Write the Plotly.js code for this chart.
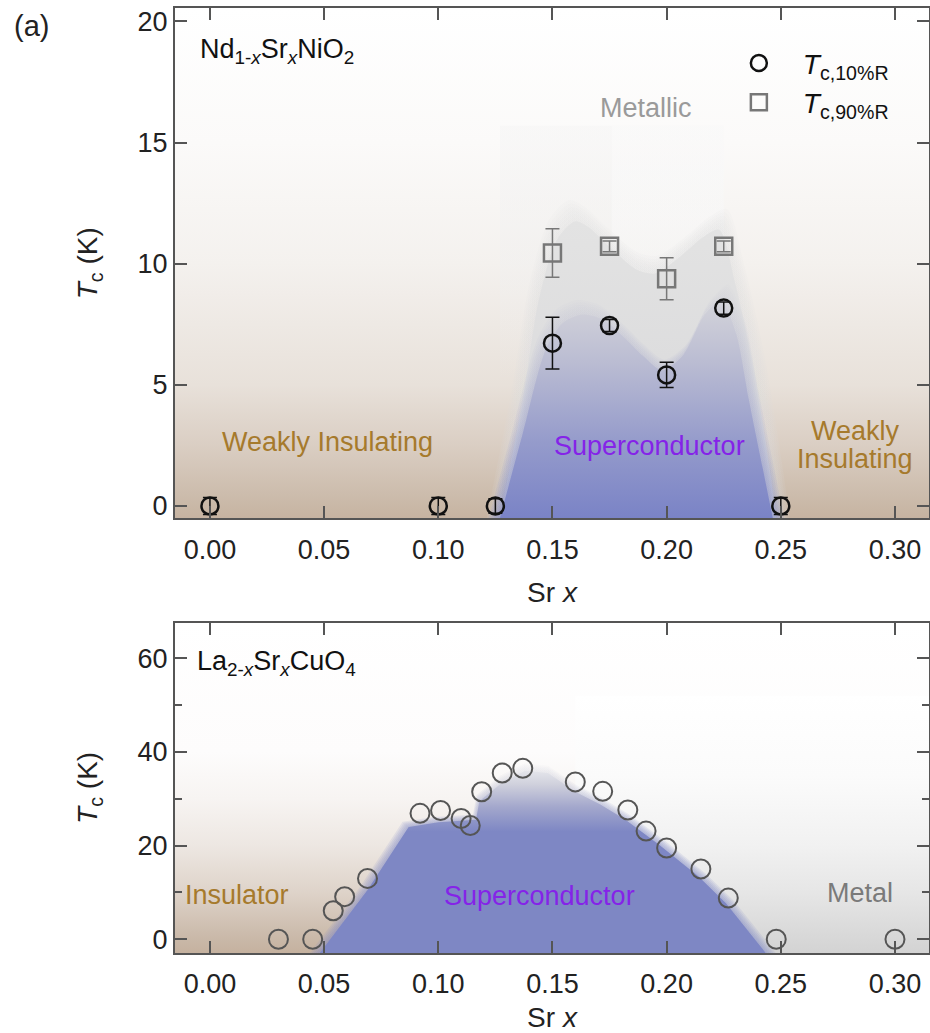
<!DOCTYPE html>
<html><head><meta charset="utf-8">
<script src="https://cdn.plot.ly/plotly-3.0.1.min.js"></script>
<style>html,body{margin:0;padding:0;background:#fff;} #chart{width:930px;height:1033px;}</style>
</head><body><div id="chart"></div>
<script>
// ---------- Data: Nd1-xSrxNiO2 ----------
const ndX = [0.00, 0.10, 0.125, 0.15, 0.175, 0.20, 0.225, 0.25];
const ndTc10 = [0, 0, 0, 6.72, 7.45, 5.41, 8.17, 0];
const ndTc10Err = [0.35, 0.35, 0.3, 1.07, 0.25, 0.52, 0.25, 0.35];
const ndX90 = [0.15, 0.175, 0.20, 0.225];
const ndTc90 = [10.44, 10.72, 9.38, 10.72];
const ndTc90Err = [1.0, 0.22, 0.87, 0.22];

// phase regions
const ndScDomeX = [0.127, 0.137, 0.147, 0.1545, 0.163, 0.172, 0.181, 0.1896, 0.198, 0.207, 0.216, 0.2217, 0.224, 0.2305, 0.236, 0.242, 0.2465];
const ndScDomeT = [-0.5, 3.0, 6.45, 7.55, 7.9, 7.7, 7.0, 6.2, 5.6, 6.2, 7.8, 8.4, 8.5, 7.1, 4.4, 1.6, -0.5];
const ndOnsetDomeX = [0.127, 0.137, 0.144, 0.152, 0.160, 0.166, 0.175, 0.187, 0.195, 0.206, 0.216, 0.223, 0.230, 0.238, 0.245, 0.248];
const ndOnsetDomeT = [-0.5, 4.4, 8.5, 11.0, 11.75, 11.5, 10.7, 9.75, 9.6, 10.3, 11.1, 11.4, 9.2, 5.76, 1.6, -0.5];
const ndMetallicX = [0.127, 0.176, 0.225];
const ndMetallicTop = 15.7;

// ---------- Data: La2-xSrxCuO4 ----------
const lsX = [0.030, 0.045, 0.054, 0.059, 0.069, 0.092, 0.101, 0.110, 0.114, 0.119, 0.128, 0.137, 0.160, 0.172, 0.183, 0.191, 0.200, 0.215, 0.227, 0.248, 0.300];
const lsTc = [0, 0, 6.1, 9.1, 13.0, 26.9, 27.5, 25.8, 24.3, 31.5, 35.5, 36.5, 33.6, 31.6, 27.6, 23.1, 19.5, 15.0, 8.8, 0, 0];
const lsDomeX = [0.048, 0.069, 0.087, 0.100, 0.1165, 0.118, 0.128, 0.138, 0.148, 0.160, 0.171, 0.182, 0.197, 0.214, 0.226, 0.2435];
const lsDomeT = [-3, 10.5, 24, 25, 25.5, 29.5, 33.5, 36, 35.5, 31.5, 28.8, 25.5, 20.1, 13.4, 7.7, -3];
const lsMetalStartX = 0.16;
const lsMetalTop = 52;

// tick labels
const xTicks = [0.00, 0.05, 0.10, 0.15, 0.20, 0.25, 0.30];
const xTickText = ['0.00', '0.05', '0.10', '0.15', '0.20', '0.25', '0.30'];
const yTicksTop = [0, 5, 10, 15, 20];
const yTicksBottom = [0, 20, 40, 60];

// ---------- layout constants ----------
const FONT = 'Liberation Sans, Arial, Helvetica, sans-serif';
const XR = [-0.0153, 0.3149];
const YR1 = [-0.516, 20.557];
const YR2 = [-2.93, 67.6];

function rect(x0, x1, y0, y1) { return {x: [x0, x1, x1, x0, x0], y: [y0, y0, y1, y1, y0]}; }
function bgTrace(r, xa, ya, cs, start, stop) {
  return {x: r.x, y: r.y, xaxis: xa, yaxis: ya, type: 'scatter', mode: 'lines', fill: 'toself',
    line: {width: 0, color: 'rgba(0,0,0,0)'}, fillgradient: {type: 'vertical', colorscale: cs, start: start, stop: stop},
    hoverinfo: 'skip', showlegend: false};
}
// soft-edged region: several outward-scaled copies at low opacity, then the region itself
function softRegion(xs, ys, xa, ya, cs, start, stop, base, spline, n, dsx, dsy, op) {
  const out = [];
  const cx = (Math.min(...xs) + Math.max(...xs)) / 2;
  const shape = spline ? 'spline' : 'linear';
  for (let k = n; k >= 1; k--) {
    const sx = 1 + k * dsx, sy = 1 + k * dsy;
    out.push({x: xs.map(v => cx + (v - cx) * sx), y: ys.map(v => base + (v - base) * sy),
      xaxis: xa, yaxis: ya, type: 'scatter', mode: 'lines', fill: 'toself', opacity: op,
      line: {width: 0, color: 'rgba(0,0,0,0)', shape: shape, smoothing: 0.8},
      fillgradient: {type: 'vertical', colorscale: cs, start: start, stop: base + (stop - base) * sy},
      hoverinfo: 'skip', showlegend: false});
  }
  out.push({x: xs, y: ys, xaxis: xa, yaxis: ya, type: 'scatter', mode: 'lines', fill: 'toself',
    line: {width: 0, color: 'rgba(0,0,0,0)', shape: shape, smoothing: 0.8},
    fillgradient: {type: 'vertical', colorscale: cs, start: start, stop: stop},
    hoverinfo: 'skip', showlegend: false});
  return out;
}

const traces = [];
// top background
let r = rect(XR[0], XR[1], YR1[0], YR1[1]);
traces.push(bgTrace(r, 'x', 'y', [[0, '#c6b3a1'], [0.025, '#c9b8a7'], [0.143, '#dacec3'], [0.262, '#e8e1da'], [0.5, '#f4f1ee'], [0.737, '#fbfaf9'], [1, '#ffffff']], YR1[0], YR1[1]));
// metallic region (subtle)
r = rect(ndMetallicX[0], ndMetallicX[2], YR1[0], ndMetallicTop);
traces.push(bgTrace(r, 'x', 'y', [[0, 'rgba(240,240,240,0)'], [0.35, 'rgba(240,240,240,0)'], [0.65, 'rgba(240,240,240,0.4)'], [1, 'rgba(244,244,244,0.45)']], YR1[0], ndMetallicTop));
r = rect(ndMetallicX[1], ndMetallicX[2], YR1[0], ndMetallicTop);
traces.push(bgTrace(r, 'x', 'y', [[0, 'rgba(252,252,252,0)'], [0.45, 'rgba(252,252,252,0)'], [0.7, 'rgba(252,252,252,0.35)'], [1, 'rgba(252,252,252,0.4)']], YR1[0], ndMetallicTop));
// onset dome (grey)
traces.push(...softRegion(ndOnsetDomeX, ndOnsetDomeT, 'x', 'y', [[0, '#d6d6d8'], [1, '#e3e3e3']], -0.5, 11.75, -0.5, true, 6, 0.016, 0.012, 0.13));
// superconducting dome (blue)
traces.push(...softRegion(ndScDomeX, ndScDomeT, 'x', 'y', [[0, '#7a83c6'], [0.35, '#959bcb'], [0.7, '#b9bbd2'], [1, '#d4d4da']], -0.5, 8.5, -0.5, true, 6, 0.014, 0.012, 0.13));
// data markers
traces.push({x: ndX, y: ndTc10, xaxis: 'x', yaxis: 'y', type: 'scatter', mode: 'markers', name: '<i>T</i><sub>c,10%R</sub>',
  marker: {symbol: 'circle-open', size: 17, color: '#111', line: {width: 2.5, color: '#111'}},
  error_y: {type: 'data', array: ndTc10Err, visible: true, color: '#111', thickness: 1.5, width: 7}});
traces.push({x: ndX90, y: ndTc90, xaxis: 'x', yaxis: 'y', type: 'scatter', mode: 'markers', name: '<i>T</i><sub>c,90%R</sub>',
  marker: {symbol: 'square-open', size: 17, color: '#777', line: {width: 2.5, color: '#777'}},
  error_y: {type: 'data', array: ndTc90Err, visible: true, color: '#777', thickness: 1.5, width: 7}});

// bottom background
r = rect(XR[0], XR[1], YR2[0], YR2[1]);
traces.push(bgTrace(r, 'x2', 'y2', [[0, '#c5b19f'], [0.042, '#c9b8a8'], [0.183, '#ded3c9'], [0.325, '#ede7e2'], [0.467, '#f7f4f2'], [0.609, '#fdfcfc'], [1, '#ffffff']], YR2[0], YR2[1]));
r = rect(lsMetalStartX, XR[1], YR2[0], lsMetalTop);
traces.push(bgTrace(r, 'x2', 'y2', [[0, '#d3d3d3'], [0.05, '#d7d7d7'], [0.236, '#e6e6e6'], [0.418, '#f1f1f1'], [0.69, '#fbfbfb'], [1, '#ffffff']], YR2[0], lsMetalTop));
traces.push(...softRegion(lsDomeX, lsDomeT, 'x2', 'y2', [[0, '#7e87c4'], [0.65, '#7e87c4'], [0.78, '#a3a7cc'], [0.9, '#cfd0dc'], [1, '#ececf0']], -2.93, 37, -2.93, false, 5, 0.009, 0.008, 0.14));
traces.push({x: lsX, y: lsTc, xaxis: 'x2', yaxis: 'y2', type: 'scatter', mode: 'markers', showlegend: false,
  marker: {symbol: 'circle-open', size: 19, color: '#555', line: {width: 2, color: '#555'}}});

const axCommon = {
  showline: true, linecolor: '#555', linewidth: 2, mirror: 'ticks',
  ticks: 'inside', ticklen: 12, tickwidth: 2, tickcolor: '#555',
  showgrid: false, zeroline: false, tickfont: {family: FONT, size: 27, color: '#222'}
};
const xCommon = Object.assign({}, axCommon, {range: XR, tickvals: xTicks, ticktext: xTickText, ticklabelstandoff: 6});
const ytitle = {text: '<i>T</i><sub>c</sub> (K)', font: {family: FONT, size: 28, color: '#222'}, standoff: 32};
const txt = (x, y, text, color, xa, ya, anchor) => ({x: x, y: y, xref: xa, yref: ya, text: text, showarrow: false,
  xanchor: anchor || 'center', yanchor: 'middle', font: {family: FONT, size: 27, color: color}});

const layout = {
  width: 930, height: 1033,
  margin: {l: 175, r: 1, t: 8, b: 80},
  paper_bgcolor: '#fff', plot_bgcolor: '#fff',
  font: {family: FONT, size: 27, color: '#222'},
  xaxis: Object.assign({}, xCommon, {anchor: 'y',
    title: {text: 'Sr <i>x</i>', font: {family: FONT, size: 28, color: '#222'}, standoff: 19}}),
  yaxis: Object.assign({}, axCommon, {domain: [0.4598, 1], range: YR1, tickvals: yTicksTop, anchor: 'x', title: ytitle}),
  xaxis2: Object.assign({}, xCommon, {anchor: 'y2',
    title: {text: 'Sr <i>x</i>', font: {family: FONT, size: 28, color: '#222'}, standoff: 12}}),
  yaxis2: Object.assign({}, axCommon, {domain: [0, 0.3495], range: YR2, tickvals: yTicksBottom, anchor: 'x2',
    minor: {tickvals: [10, 30, 50], ticklen: 7, tickwidth: 2, tickcolor: '#555', ticks: 'inside'}, title: ytitle}),
  showlegend: true,
  legend: {x: 0.716, y: 0.968, xanchor: 'left', yanchor: 'top', bgcolor: 'rgba(0,0,0,0)',
    font: {family: FONT, size: 28, color: '#111'}, itemwidth: 78, tracegroupgap: 0},
  annotations: [
    {x: -0.216, y: 0.981, xref: 'paper', yref: 'paper', text: '(a)', showarrow: false, xanchor: 'left', yanchor: 'middle',
      font: {family: FONT, size: 29, color: '#222'}},
    txt(-0.0053, 18.8, 'Nd<sub>1-<i>x</i></sub>Sr<sub><i>x</i></sub>NiO<sub>2</sub>', '#111', 'x', 'y', 'left'),
    txt(0.1908, 16.43, 'Metallic', '#9a9a9a', 'x', 'y'),
    txt(0.0513, 2.64, 'Weakly Insulating', '#a67a2c', 'x', 'y'),
    txt(0.1926, 2.48, 'Superconductor', '#8523e8', 'x', 'y'),
    txt(0.2825, 3.1, 'Weakly', '#a67a2c', 'x', 'y'),
    txt(0.2825, 1.94, 'Insulating', '#a67a2c', 'x', 'y'),
    txt(-0.0066, 59.0, 'La<sub>2-<i>x</i></sub>Sr<sub><i>x</i></sub>CuO<sub>4</sub>', '#111', 'x2', 'y2', 'left'),
    txt(0.01205, 9.48, 'Insulator', '#a67a2c', 'x2', 'y2'),
    txt(0.1445, 9.3, 'Superconductor', '#8523e8', 'x2', 'y2'),
    txt(0.2847, 9.9, 'Metal', '#7a7a7a', 'x2', 'y2')
  ]
};

Plotly.newPlot('chart', traces, layout, {staticPlot: true, displayModeBar: false});
</script></body></html>
